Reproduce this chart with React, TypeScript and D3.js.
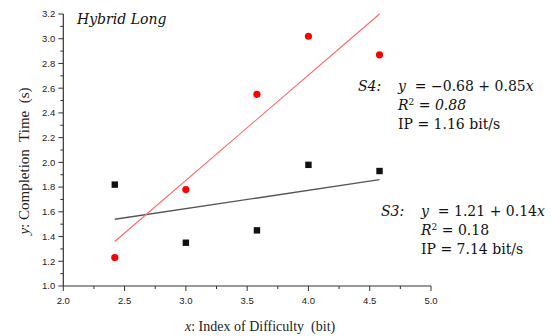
import React from "react";
import * as d3 from "d3";

const W = 553;
const H = 336;

const idValues = [2.42, 3.0, 3.58, 4.0, 4.58];
const s4Times = [1.23, 1.78, 2.55, 3.02, 2.87];
const s3Times = [1.82, 1.35, 1.45, 1.98, 1.93];
const s4FitX = [2.42, 4.58];
const s4FitY = [1.36, 3.2];
const s3FitX = [2.42, 4.58];
const s3FitY = [1.54, 1.86];
const xTicks = [2.0, 2.5, 3.0, 3.5, 4.0, 4.5, 5.0];
const yTicks = [1.0, 1.2, 1.4, 1.6, 1.8, 2.0, 2.2, 2.4, 2.6, 2.8, 3.0, 3.2];

const serif = "'DejaVu Serif', serif";
const times = "'Liberation Serif', 'Times New Roman', serif";
const sans = "'Liberation Sans', Arial, sans-serif";

export default function App() {
  const x = d3.scaleLinear().domain([2, 5]).range([63.3, 431]);
  const y = d3.scaleLinear().domain([1, 3.2]).range([286, 14]);
  const line = d3
    .line<[number, number]>()
    .x((d) => x(d[0]))
    .y((d) => y(d[1]));
  const s4Fit = s4FitX.map((v, i) => [v, s4FitY[i]] as [number, number]);
  const s3Fit = s3FitX.map((v, i) => [v, s3FitY[i]] as [number, number]);
  const xMinor = d3.range(2, 5.001, 0.25);
  const yMinor = d3.range(1, 3.2001, 0.1);
  const x0 = x.range()[0];
  const y0 = y.range()[0];
  const tickColor = "#333";

  return (
    <svg
      width={W}
      height={H}
      style={{ position: "absolute", left: 0, top: 0, background: "#fff" }}
    >
      {/* axes */}
      <line x1={x0} x2={x0} y1={y(3.2)} y2={y0} stroke={tickColor} strokeWidth={1.2} />
      <line x1={x0} x2={x(5)} y1={y0} y2={y0} stroke={tickColor} strokeWidth={1.2} />
      {yMinor.map((v, i) => (
        <line
          key={"ym" + i}
          x1={x0}
          x2={x0 - (i % 2 === 0 ? 5 : 3)}
          y1={y(v)}
          y2={y(v)}
          stroke={tickColor}
          strokeWidth={1}
        />
      ))}
      {xMinor.map((v, i) => (
        <line
          key={"xm" + i}
          x1={x(v)}
          x2={x(v)}
          y1={y0}
          y2={y0 + (i % 2 === 0 ? 5 : 3)}
          stroke={tickColor}
          strokeWidth={1}
        />
      ))}
      {yTicks.map((v) => (
        <text
          key={"yt" + v}
          x={x0 - 8}
          y={y(v)}
          dy="0.35em"
          textAnchor="end"
          fontFamily={sans}
          fontSize={9.5}
          fill="#222"
        >
          {v.toFixed(1)}
        </text>
      ))}
      {xTicks.map((v) => (
        <text
          key={"xt" + v}
          x={x(v)}
          y={y0 + 18}
          textAnchor="middle"
          fontFamily={sans}
          fontSize={9.5}
          fill="#222"
        >
          {v.toFixed(1)}
        </text>
      ))}

      {/* axis titles */}
      <text
        transform={`translate(29, 161) rotate(-90)`}
        textAnchor="middle"
        fontFamily={times}
        fontSize={15}
        fill="#222"
      >
        <tspan fontStyle="italic">y</tspan>: Completion{"\u00a0 "}Time{"\u00a0 "}(s)
      </text>
      <text x={185} y={331} fontFamily={times} fontSize={14} fill="#222">
        <tspan fontStyle="italic">x</tspan>: Index of Difficulty{"\u00a0 "}(bit)
      </text>

      {/* fit lines */}
      <path d={line(s3Fit) || ""} stroke="#555" strokeWidth={1.4} fill="none" />
      <path d={line(s4Fit) || ""} stroke="#ff6464" strokeWidth={1.1} fill="none" />

      {/* points */}
      {idValues.map((v, i) => (
        <rect
          key={"s3" + i}
          x={x(v) - 3.2}
          y={y(s3Times[i]) - 3.2}
          width={6.4}
          height={6.4}
          fill="#111"
        />
      ))}
      {idValues.map((v, i) => (
        <circle key={"s4" + i} cx={x(v)} cy={y(s4Times[i])} r={3.6} fill="#ff0000" />
      ))}

      {/* title */}
      <text x={77} y={24} fontFamily={serif} fontStyle="italic" fontSize={14} fill="#111">
        Hybrid Long
      </text>

      {/* S4 annotation */}
      <g fontFamily={serif} fontSize={14} fill="#111">
        <text x={358} y={91} fontStyle="italic">S4:</text>
        <text x={398} y={91}>
          <tspan fontStyle="italic">y</tspan>
          {"\u00a0\u00a0= \u22120.68 + 0.85"}
          <tspan fontStyle="italic">x</tspan>
        </text>
        <text x={398} y={110}>
          <tspan fontStyle="italic">R</tspan>
          <tspan dy={-5} fontSize={9}>2</tspan>
          <tspan dy={5}>{" = "}</tspan>
          <tspan fontStyle="italic">0.88</tspan>
        </text>
        <text x={398} y={129}>IP = 1.16 bit/s</text>
      </g>

      {/* S3 annotation */}
      <g fontFamily={serif} fontSize={14} fill="#111">
        <text x={381} y={216} fontStyle="italic">S3:</text>
        <text x={421} y={216}>
          <tspan fontStyle="italic">y</tspan>
          {"\u00a0\u00a0= 1.21 + 0.14"}
          <tspan fontStyle="italic">x</tspan>
        </text>
        <text x={421} y={235}>
          <tspan fontStyle="italic">R</tspan>
          <tspan dy={-5} fontSize={9}>2</tspan>
          <tspan dy={5}>{" = 0.18"}</tspan>
        </text>
        <text x={421} y={254}>IP = 7.14 bit/s</text>
      </g>
    </svg>
  );
}
